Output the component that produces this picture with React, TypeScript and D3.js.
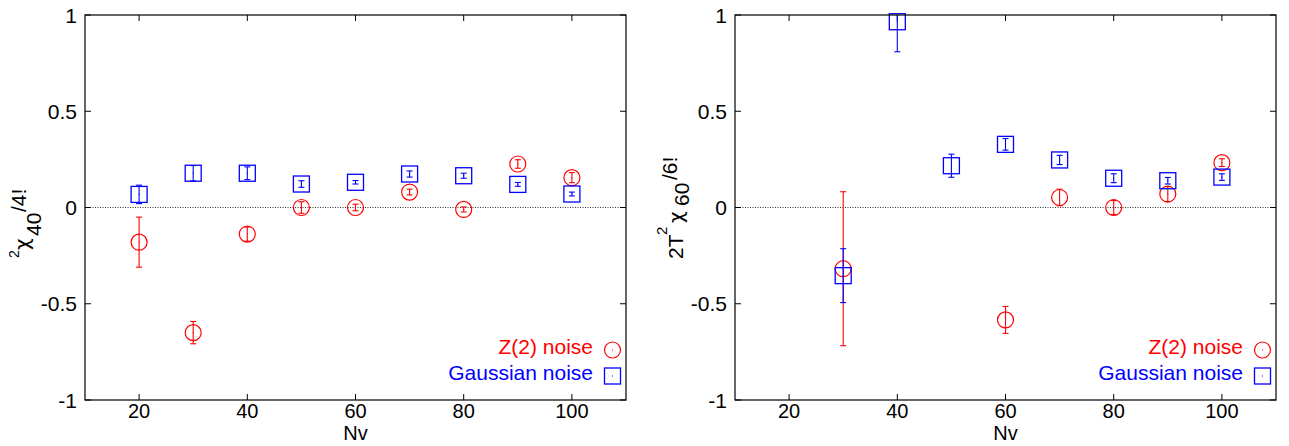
import React from "react";
import * as d3 from "d3";

// ---------- data ----------
const leftNv = [20, 30, 40, 50, 60, 70, 80, 90, 100];
const leftZ2 = [-0.18, -0.65, -0.138, 0.0, 0.0, 0.08, -0.01, 0.226, 0.155];
const leftZ2Err = [0.13, 0.058, 0.037, 0.03, 0.017, 0.015, 0.013, 0.022, 0.026];
const leftGauss = [0.068, 0.178, 0.178, 0.122, 0.131, 0.174, 0.165, 0.12, 0.07];
const leftGaussErr = [0.048, 0.04, 0.033, 0.017, 0.009, 0.016, 0.013, 0.01, 0.01];

const rightZ2Nv = [30, 60, 70, 80, 90, 100];
const rightZ2 = [-0.318, -0.584, 0.052, 0.0, 0.07, 0.233];
const rightZ2Err = [0.4, 0.07, 0.043, 0.036, 0.039, 0.02];
const rightGaussNv = [30, 40, 50, 60, 70, 80, 90, 100];
const rightGauss = [-0.354, 0.965, 0.217, 0.328, 0.247, 0.152, 0.139, 0.158];
const rightGaussErr = [0.14, 0.156, 0.06, 0.03, 0.024, 0.023, 0.017, 0.017];

const xTicks = [20, 40, 60, 80, 100];
const yTicks = [-1, -0.5, 0, 0.5, 1];
const yTickLabels = ["-1", "-0.5", "0", "0.5", "1"];
const legendLabels = ["Z(2) noise", "Gaussian noise"];
const xLabel = "Nv";

const FONT = "'Liberation Sans', Arial, Helvetica, sans-serif";
const GREEK = "'DejaVu Sans', 'Liberation Sans', sans-serif";
const RED = "#ff0000";
const BLUE = "#0000ff";

type Pt = { x: number; y: number; e: number };
const zip = (xs: number[], ys: number[], es: number[]): Pt[] =>
  xs.map((x, i) => ({ x, y: ys[i], e: es[i] }));

type LabelPiece = { t: string; size: number; start: number; base: number; greek?: boolean };

function Panel(props: {
  id: string;
  left: number;
  right: number;
  z2: Pt[];
  gauss: Pt[];
  label: LabelPiece[];
}) {
  const { id, left, right, z2, gauss, label } = props;
  const top = 15;
  const bottom = 400;
  const x = d3.scaleLinear().domain([10, 110]).range([left, right]);
  const y = d3.scaleLinear().domain([-1, 1]).range([bottom, top]);
  const tick = 6;
  const cap = 3;
  const r = 8;

  const errBar = (p: Pt, color: string, key: string) => {
    const cx = x(p.x);
    const y1 = y(p.y + p.e);
    const y2 = y(p.y - p.e);
    return (
      <g key={key} stroke={color} strokeWidth={1.1} clipPath={`url(#clip-${id})`}>
        <line x1={cx} x2={cx} y1={y1} y2={y2} />
        <line x1={cx - cap} x2={cx + cap} y1={y1} y2={y1} />
        <line x1={cx - cap} x2={cx + cap} y1={y2} y2={y2} />
      </g>
    );
  };

  const circleMark = (cx: number, cy: number, key: string) => (
    <g key={key}>
      <circle cx={cx} cy={cy} r={r} fill="none" stroke={RED} strokeWidth={1.2} />
      <rect x={cx - 0.5} y={cy - 0.5} width={1} height={1} fill={RED} />
    </g>
  );
  const squareMark = (cx: number, cy: number, key: string) => (
    <g key={key}>
      <rect x={cx - r} y={cy - r} width={2 * r} height={2 * r} fill="none" stroke={BLUE} strokeWidth={1.3} />
      <rect x={cx - 0.5} y={cy - 0.5} width={1} height={1} fill={BLUE} />
    </g>
  );

  const legX = right - 13.5;
  const textX = right - 33;

  return (
    <g fontFamily={FONT}>
      <defs>
        <clipPath id={`clip-${id}`}>
          <rect x={left} y={top} width={right - left} height={bottom - top} />
        </clipPath>
      </defs>
      {/* zero line */}
      <line
        x1={left}
        x2={right}
        y1={y(0)}
        y2={y(0)}
        stroke="#000"
        strokeWidth={0.8}
        strokeDasharray="1,1.5"
      />
      {/* ticks */}
      {xTicks.map((t) => (
        <g key={"xt" + t} stroke="#000" strokeWidth={1}>
          <line x1={x(t)} x2={x(t)} y1={bottom} y2={bottom - tick} />
          <line x1={x(t)} x2={x(t)} y1={top} y2={top + tick} />
        </g>
      ))}
      {yTicks.map((t) => (
        <g key={"yt" + t} stroke="#000" strokeWidth={1}>
          <line x1={left} x2={left + tick} y1={y(t)} y2={y(t)} />
          <line x1={right} x2={right - tick} y1={y(t)} y2={y(t)} />
        </g>
      ))}
      {xTicks.map((t) => (
        <text key={"xl" + t} x={x(t)} y={417.5} fontSize={20} textAnchor="middle" fill="#000">
          {t}
        </text>
      ))}
      {yTicks.map((t, i) => (
        <text
          key={"yl" + t}
          x={left - 8}
          y={y(t) + 7.5}
          fontSize={21}
          textAnchor="end"
          fill="#000"
        >
          {yTickLabels[i]}
        </text>
      ))}
      <text x={(left + right) / 2} y={440} fontSize={20} textAnchor="middle" fill="#000">
        {xLabel}
      </text>
      {/* y label pieces */}
      {label.map((p, i) => (
        <text
          key={"lab" + i}
          transform={`translate(${p.base},${p.start}) rotate(-90)`}
          fontSize={p.size}
          fontFamily={p.greek ? GREEK : FONT}
          fill="#000"
        >
          {p.t}
        </text>
      ))}
      {/* data */}
      {z2.map((p, i) => errBar(p, RED, "ze" + i))}
      {z2.map((p, i) => circleMark(x(p.x), y(p.y), "zc" + i))}
      {gauss.map((p, i) => errBar(p, BLUE, "ge" + i))}
      {gauss.map((p, i) => squareMark(x(p.x), y(p.y), "gs" + i))}
      {/* legend */}
      <text x={textX} y={354} fontSize={21} textAnchor="end" fill={RED}>
        {legendLabels[0]}
      </text>
      {circleMark(legX, 350, "legc")}
      <text x={textX} y={380} fontSize={21} textAnchor="end" fill={BLUE}>
        {legendLabels[1]}
      </text>
      {squareMark(legX, 376, "legs")}
      {/* frame */}
      <rect x={left} y={top} width={right - left} height={bottom - top} fill="none" stroke="#000" strokeWidth={1.2} />
    </g>
  );
}

const leftLabel: LabelPiece[] = [
  { t: "2", size: 14, start: 258, base: 19 },
  { t: "χ", size: 20, start: 250, base: 29, greek: true },
  { t: "40", size: 21, start: 236, base: 41 },
  { t: "/4!", size: 21, start: 212, base: 26 },
];

const rightLabel: LabelPiece[] = [
  { t: "2T", size: 21, start: 259, base: 683 },
  { t: "2", size: 15, start: 235, base: 667 },
  { t: "χ", size: 20, start: 223, base: 683, greek: true },
  { t: "60", size: 21, start: 206, base: 689 },
  { t: "/6!", size: 21, start: 180, base: 677 },
];

export default function App() {
  return (
    <svg
      width={1289}
      height={446}
      style={{ position: "absolute", left: 0, top: 0, background: "#fff" }}
    >
      <rect width={1289} height={446} fill="#fff" />
      <Panel
        id="L"
        left={85}
        right={626}
        z2={zip(leftNv, leftZ2, leftZ2Err)}
        gauss={zip(leftNv, leftGauss, leftGaussErr)}
        label={leftLabel}
      />
      <Panel
        id="R"
        left={735}
        right={1276}
        z2={zip(rightZ2Nv, rightZ2, rightZ2Err)}
        gauss={zip(rightGaussNv, rightGauss, rightGaussErr)}
        label={rightLabel}
      />
    </svg>
  );
}
